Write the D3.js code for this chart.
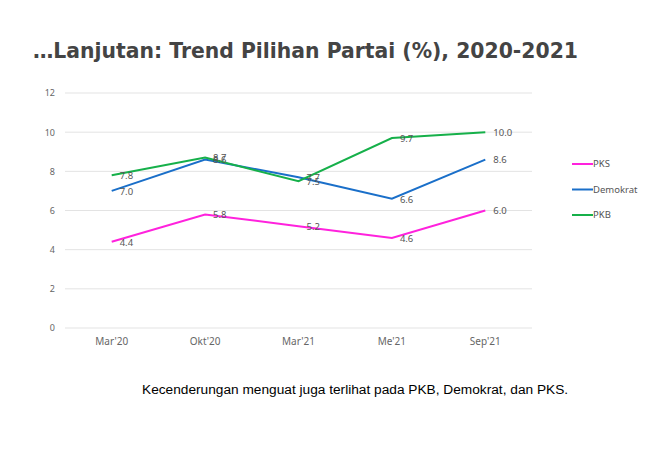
<!DOCTYPE html>
<html>
<head>
<meta charset="utf-8">
<script src="https://cdn.jsdelivr.net/npm/d3@7"></script>
<style>
  body { margin: 0; background: #fff; }
  svg { display: block; }
</style>
</head>
<body>
<div id="chart"></div>
<script>
// data
var periods = ["Mar'20", "Okt'20", "Mar'21", "Me'21", "Sep'21"];
var partai = ["PKS", "Demokrat", "PKB"];
var pks = [4.4, 5.8, 5.2, 4.6, 6.0];
var demokrat = [7.0, 8.6, 7.7, 6.6, 8.6];
var pkb = [7.8, 8.7, 7.5, 9.7, 10.0];
var yTicks = [0, 2, 4, 6, 8, 10, 12];
var warna = ["#ff22dd", "#1a6fc9", "#16b04a"];

var series = [pks, demokrat, pkb];

var W = 670, H = 453,
    margin = {top: 93, left: 65},
    width = 467,
    height = 235;

var svg = d3.select("#chart").append("svg")
    .attr("width", W)
    .attr("height", H);

// title
svg.append("text")
    .attr("x", 33)
    .attr("y", 58)
    .attr("textLength", 545)
    .attr("lengthAdjust", "spacingAndGlyphs")
    .style("font-family", "DejaVu Sans, sans-serif")
    .style("font-weight", "bold")
    .style("font-size", "22px")
    .style("fill", "#444")
    .text("\u2026Lanjutan: Trend Pilihan Partai (%), 2020-2021");

var g = svg.append("g")
    .attr("transform", "translate(" + margin.left + "," + margin.top + ")");

var x = d3.scaleBand().domain(periods).range([0, width]);
var y = d3.scaleLinear().domain([0, 12]).range([height, 0]);

// gridlines
g.selectAll(".grid")
    .data(yTicks)
    .enter().append("line")
    .attr("class", "grid")
    .attr("x1", 0).attr("x2", width)
    .attr("y1", function(d) { return y(d); })
    .attr("y2", function(d) { return y(d); })
    .style("stroke", "#e3e3e3")
    .style("stroke-width", 1);

var yAxis = g.append("g")
    .call(d3.axisLeft(y).tickValues(yTicks).tickSize(0).tickPadding(10));
yAxis.select(".domain").remove();
yAxis.selectAll("text")
    .style("font-family", "Noto Sans, sans-serif")
    .style("font-size", "9px")
    .style("fill", "#666");

var xAxis = g.append("g")
    .attr("transform", "translate(0," + height + ")")
    .call(d3.axisBottom(x).tickSize(0).tickPadding(10));
xAxis.select(".domain").remove();
xAxis.selectAll("text")
    .style("font-family", "Noto Sans, sans-serif")
    .style("font-size", "10px")
    .style("fill", "#666");

var cx = function(i) { return x(periods[i]) + x.bandwidth() / 2; };

var line = d3.line()
    .x(function(d, i) { return cx(i); })
    .y(function(d) { return y(d); });

series.forEach(function(s, k) {
    g.append("path")
        .datum(s)
        .attr("d", line)
        .style("fill", "none")
        .style("stroke", warna[k])
        .style("stroke-width", 2);
});

// value labels
series.forEach(function(s, k) {
    g.selectAll(".lbl" + k)
        .data(s)
        .enter().append("text")
        .attr("x", function(d, i) { return cx(i) + 8; })
        .attr("y", function(d) { return y(d); })
        .attr("dy", "0.4em")
        .style("font-family", "Noto Sans, sans-serif")
        .style("font-size", "9.5px")
        .style("fill", "#555")
        .text(function(d) { return d.toFixed(1); });
});

// legend
var legend = svg.append("g").attr("transform", "translate(572,164)");
partai.forEach(function(p, k) {
    var row = legend.append("g").attr("transform", "translate(0," + (k * 25.5) + ")");
    row.append("line")
        .attr("x1", 0).attr("x2", 21)
        .style("stroke", warna[k])
        .style("stroke-width", 2);
    row.append("text")
        .attr("x", 21)
        .attr("dy", "0.35em")
        .style("font-family", "Noto Sans, sans-serif")
        .style("font-size", "9.5px")
        .style("fill", "#555")
        .text(p);
});

// caption
svg.append("text")
    .attr("x", 142)
    .attr("y", 394)
    .style("font-family", "Liberation Sans, Arial, sans-serif")
    .style("font-size", "13.7px")
    .style("fill", "#000")
    .text("Kecenderungan menguat juga terlihat pada PKB, Demokrat, dan PKS.");
</script>
</body>
</html>
